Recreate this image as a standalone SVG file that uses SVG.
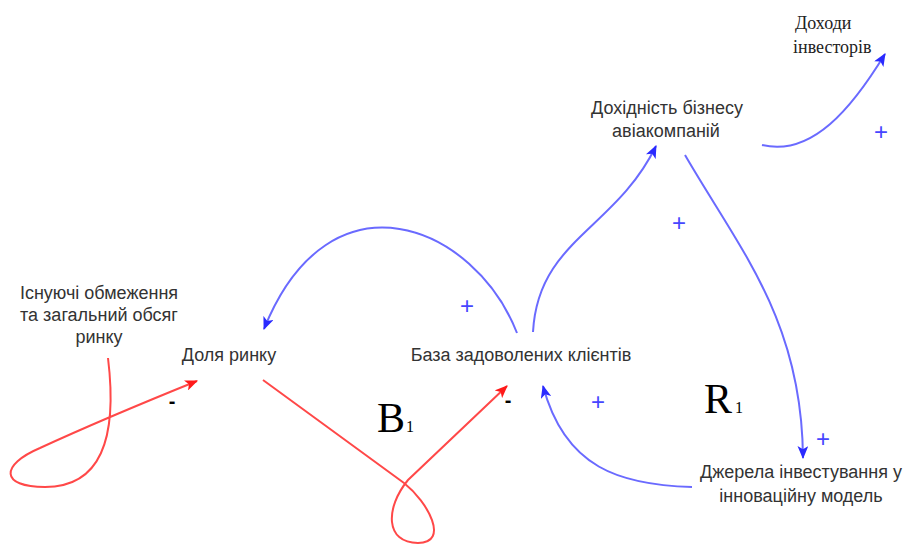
<svg xmlns="http://www.w3.org/2000/svg" width="911" height="545" viewBox="0 0 911 545">
<style>
.lbl{font-family:"Liberation Sans",Arial,sans-serif;font-size:18px;fill:#333;text-anchor:middle}
.ser{font-family:"Liberation Serif","Times New Roman",serif;font-size:18px;fill:#222;text-anchor:start}
.big{font-family:"Liberation Serif","Times New Roman",serif;font-size:42px;fill:#000}
.sub{font-family:"Liberation Serif","Times New Roman",serif;font-size:16px;fill:#000}
.pl{font-family:"Liberation Sans",Arial,sans-serif;font-size:24px;fill:#4646ff;text-anchor:middle}
.mn{font-family:"Liberation Sans",Arial,sans-serif;font-size:20px;fill:#000;text-anchor:middle;font-weight:bold}
.b{fill:none;stroke:#6a6aff;stroke-width:2;marker-end:url(#ab)}
.r{fill:none;stroke:#ff4848;stroke-width:2;marker-end:url(#ar)}
</style>
<defs>
<marker id="ab" viewBox="0 0 12 10" refX="11" refY="5" markerWidth="13" markerHeight="11" markerUnits="userSpaceOnUse" orient="auto"><path d="M0,0 L12,5 L0,10 L3,5 Z" fill="#2a2aff"/></marker>
<marker id="ar" viewBox="0 0 12 10" refX="11" refY="5" markerWidth="13" markerHeight="11" markerUnits="userSpaceOnUse" orient="auto"><path d="M0,0 L12,5 L0,10 L3,5 Z" fill="#ff1a1a"/></marker>
</defs>
<g id="connectors">
<path class="b" d="M517,333 C475,225 330,165 264,329"/>
<path class="b" d="M533,332 C538,240 615,230 656,146"/>
<path class="b" d="M685,155 C740,250 802,320 803,458"/>
<path class="b" d="M762,145 C812,157 852,108 885,54"/>
<path class="b" d="M692,487 C620,485 565,468 543,386"/>
<path class="r" d="M108,358 C118,440 100,487 45,487 C0,487 0,465 40,448 C90,425 150,400 197,381"/>
<path class="r" d="M263,380 L404,483 C428,502 450,543 418,543 C385,543 385,508 408,480 L507,386"/>
</g>
<g id="n-obmezhennia">
<text class="lbl" x="99" y="299">Існуючі обмеження</text>
<text class="lbl" x="99" y="321">та загальний обсяг</text>
<text class="lbl" x="99" y="343">ринку</text>
</g>
<g id="n-dolia"><text class="lbl" x="229" y="361">Доля ринку</text></g>
<g id="n-baza"><text class="lbl" x="521" y="361">База задоволених клієнтів</text></g>
<g id="n-dokhidnist">
<text class="lbl" x="667" y="114">Дохідність бізнесу</text>
<text class="lbl" x="666" y="137">авіакомпаній</text>
</g>
<g id="n-dokhody">
<text class="ser" x="795" y="29">Доходи</text>
<text class="ser" x="793" y="53">інвесторів</text>
</g>
<g id="n-dzherela">
<text class="lbl" x="801" y="478">Джерела інвестування у</text>
<text class="lbl" x="801" y="502">інноваційну модель</text>
</g>
<g id="loops">
<text class="big" x="377" y="432">B</text><text class="sub" x="406" y="432">1</text>
<text class="big" x="704" y="413">R</text><text class="sub" x="735" y="413">1</text>
</g>
<g id="polarities">
<text class="pl" x="467" y="314">+</text>
<text class="pl" x="679" y="231">+</text>
<text class="pl" x="881" y="140">+</text>
<text class="pl" x="598" y="410">+</text>
<text class="pl" x="823" y="447">+</text>
<text class="mn" x="172" y="408">-</text>
<text class="mn" x="508" y="407">-</text>
</g>
</svg>
